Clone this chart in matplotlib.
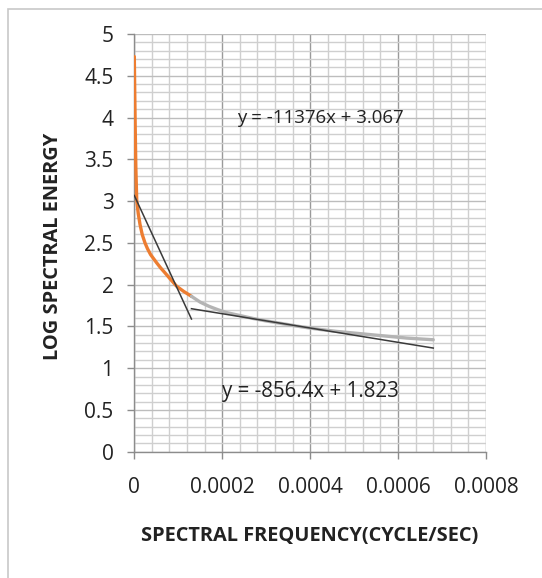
import matplotlib
matplotlib.use("Agg")
import matplotlib.pyplot as plt
from matplotlib.ticker import MultipleLocator
from matplotlib.patches import Rectangle

# --- data ---
orange_x = [0, 0.000001, 0.000002, 0.0000035, 0.0000055, 0.000009, 0.000013, 0.000018,
            0.0000243, 0.00003, 0.000037, 0.000044, 0.000051, 0.00006, 0.00007,
            0.000083, 0.0000964, 0.000112, 0.00013]
orange_y = [4.73, 4.3, 3.9, 3.4, 3.01, 2.85, 2.72, 2.6,
            2.5, 2.43, 2.36, 2.31, 2.26, 2.2, 2.14,
            2.06, 1.98, 1.92, 1.86]
gray_x = [0.00013, 0.00015, 0.00017, 0.00019, 0.00021, 0.00024, 0.00027, 0.0003,
          0.00034, 0.00038, 0.00042, 0.00046, 0.0005, 0.00054, 0.00058, 0.00062,
          0.00065, 0.00068]
gray_y = [1.86, 1.79, 1.74, 1.7, 1.665, 1.63, 1.595, 1.565,
          1.53, 1.495, 1.465, 1.44, 1.42, 1.4, 1.38, 1.36,
          1.35, 1.34]
fit1_slope, fit1_icpt = -11376, 3.067
fit1_range = [0, 0.00013]
fit2_slope, fit2_icpt = -856.4, 1.823
fit2_range = [0.00013, 0.00068]
eq1_label = "y = -11376x + 3.067"
eq2_label = "y = -856.4x + 1.823"
x_ticks = [0, 0.0002, 0.0004, 0.0006, 0.0008]
y_ticks = [0, 0.5, 1, 1.5, 2, 2.5, 3, 3.5, 4, 4.5, 5]

plt.rcParams['font.family'] = ['Open Sans', 'DejaVu Sans']

W, H = 542, 578
fig = plt.figure(figsize=(W / 100, H / 100), dpi=100)
fig.patch.set_facecolor('white')
fig.patches.append(Rectangle((8 / W, -0.1), 1.2, 1 - 9 / H + 0.1, transform=fig.transFigure,
                             fill=False, edgecolor='#c8c8c8', linewidth=1.2))

L, R, T, B = 134.3, 486, 34, 451.7
ax = fig.add_axes([L / W, 1 - B / H, (R - L) / W, (B - T) / H])
ax.set_xlim(0, 0.0008)
ax.set_ylim(0, 5)
ax.xaxis.set_minor_locator(MultipleLocator(0.00004))
ax.yaxis.set_minor_locator(MultipleLocator(0.1))
ax.set_xticks(x_ticks)
ax.set_yticks(y_ticks)
ax.set_xticklabels(["0" if v == 0 else f"{v:.4f}" for v in x_ticks])
ax.set_yticklabels([f"{v:g}" for v in y_ticks])

ax.grid(which='minor', color='#cfcfcf', linewidth=1.0)
ax.grid(which='major', axis='x', color='#9a9a9a', linewidth=1.0)
ax.grid(which='major', axis='y', color='#bdbdbd', linewidth=1.0)
ax.set_axisbelow(True)
for s in ['top', 'right']:
    ax.spines[s].set_visible(False)
for s in ['left', 'bottom']:
    ax.spines[s].set_color('#8c8c8c')
    ax.spines[s].set_linewidth(1.0)
ax.tick_params(which='minor', length=0)
ax.tick_params(which='major', length=5, width=1, color='#8c8c8c', labelsize=15,
               labelcolor='#222222')
ax.tick_params(axis='x', pad=13)
ax.tick_params(axis='y', pad=10)

ax.plot(orange_x, orange_y, color='#ed7d31', linewidth=2.4, solid_capstyle='round', zorder=3)
ax.plot(gray_x, gray_y, color='#b4b4b4', linewidth=2.4, solid_capstyle='round', zorder=3)
ax.plot(fit1_range, [fit1_slope * v + fit1_icpt for v in fit1_range], color='#3a3a3a',
        linewidth=1.1, zorder=4)
ax.plot(fit2_range, [fit2_slope * v + fit2_icpt for v in fit2_range], color='#3a3a3a',
        linewidth=1.1, zorder=4)

ax.text(0.000234, 4.0, eq1_label, fontsize=13.4, color='#222222', va='center', ha='left')
ax.text(0.0002, 0.72, eq2_label, fontsize=14.8, color='#222222', va='center', ha='left')

fig.text(53 / W, 1 - 246 / H, "LOG SPECTRAL ENERGY", rotation=90, fontsize=14.4,
         fontweight='bold', ha='center', va='center', color='#222222')
fig.text(310 / W, 1 - 536 / H, "SPECTRAL FREQUENCY(CYCLE/SEC)", fontsize=14.4,
         fontweight='bold', ha='center', va='center', color='#222222')

fig.savefig("out.png", dpi=100, facecolor='white')
